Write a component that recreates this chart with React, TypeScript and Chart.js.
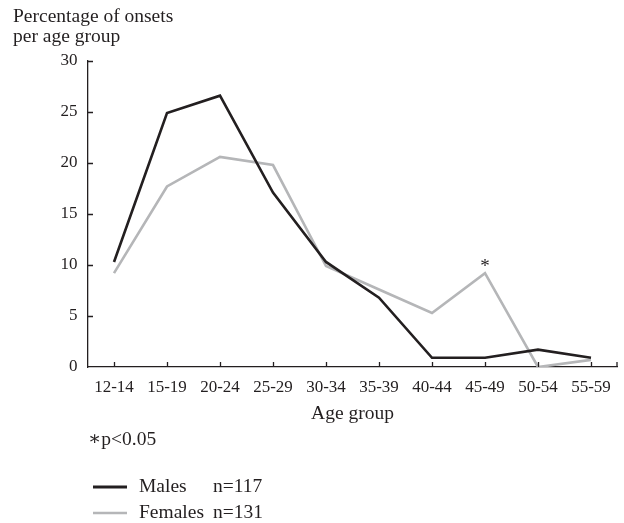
import React, { useEffect, useRef } from "react";
import { Chart, registerables } from "chart.js";

Chart.register(...registerables);

const ageGroups = ["12-14", "15-19", "20-24", "25-29", "30-34", "35-39", "40-44", "45-49", "50-54", "55-59"];
const males = [10.3, 24.9, 26.6, 17.1, 10.3, 6.8, 0.9, 0.9, 1.7, 0.9];
const females = [9.2, 17.7, 20.6, 19.8, 9.9, 7.6, 5.3, 9.2, 0, 0.7];
const yTickValues = [0, 5, 10, 15, 20, 25, 30];
const yTitleLines = ["Percentage of onsets", "per age group"];
const xTitle = "Age group";
const footnote = "\u2217p<0.05";
const significantIndex = 7;
const legendItems = [
  { label: "Males", n: "n=117" },
  { label: "Females", n: "n=131" },
];

const BLACK = "#231f20";
const GRAY = "#b5b6b8";
const FONT = "'Liberation Serif', 'DejaVu Serif', serif";

const decorPlugin = {
  id: "decor",
  afterDraw(chart: any) {
    const ctx = chart.ctx;
    const area = chart.chartArea;
    const xs = chart.scales.x;
    const ys = chart.scales.y;
    ctx.save();
    // inward tick marks
    ctx.strokeStyle = BLACK;
    ctx.lineWidth = 1.3;
    ctx.beginPath();
    yTickValues.forEach((v) => {
      const y = Math.round(ys.getPixelForValue(v)) + 0.5;
      if (v === 0) return;
      ctx.moveTo(area.left, y);
      ctx.lineTo(area.left + 5.5, y);
    });
    ageGroups.forEach((_, i) => {
      const x = Math.round(xs.getPixelForValue(i)) + 0.5;
      ctx.moveTo(x, area.bottom);
      ctx.lineTo(x, area.bottom - 5);
    });
    ctx.moveTo(area.right - 0.5, area.bottom);
    ctx.lineTo(area.right - 0.5, area.bottom - 5);
    ctx.stroke();

    ctx.fillStyle = BLACK;
    ctx.textBaseline = "alphabetic";
    // y title
    ctx.font = `19.5px ${FONT}`;
    ctx.textAlign = "left";
    ctx.fillText(yTitleLines[0], 13, 21.5);
    ctx.fillText(yTitleLines[1], 13, 42);
    // x title
    ctx.textAlign = "center";
    ctx.fillText(xTitle, (area.left + area.right) / 2, 418.5);
    // significance marker
    ctx.font = `19px ${FONT}`;
    const sx = xs.getPixelForValue(significantIndex);
    const sy = ys.getPixelForValue(females[significantIndex]);
    ctx.fillText("*", sx, sy - 1);
    // footnote
    ctx.textAlign = "left";
    ctx.font = `19.5px ${FONT}`;
    ctx.fillText(footnote, 88, 445);
    // legend
    const colors = [BLACK, GRAY];
    const lineY = [487, 513];
    const textY = [492, 518];
    legendItems.forEach((item, i) => {
      ctx.strokeStyle = colors[i];
      ctx.lineWidth = i === 0 ? 2.8 : 2.4;
      ctx.beginPath();
      ctx.moveTo(93, lineY[i]);
      ctx.lineTo(127, lineY[i]);
      ctx.stroke();
      ctx.fillStyle = BLACK;
      ctx.font = `19.5px ${FONT}`;
      ctx.fillText(item.label, 139, textY[i]);
      ctx.fillText(item.n, 213, textY[i]);
    });
    ctx.restore();
  },
};

export default function App() {
  const ref = useRef<HTMLCanvasElement | null>(null);
  useEffect(() => {
    if (!ref.current) return;
    const chart = new Chart(ref.current, {
      type: "line",
      data: {
        labels: ageGroups,
        datasets: [
          {
            label: "Males",
            data: males,
            borderColor: BLACK,
            borderWidth: 2.6,
            pointRadius: 0,
            tension: 0,
            fill: false,
          },
          {
            label: "Females",
            data: females,
            borderColor: GRAY,
            borderWidth: 2.6,
            pointRadius: 0,
            tension: 0,
            fill: false,
          },
        ],
      },
      options: {
        responsive: false,
        animation: false,
        events: [],
        layout: { padding: { top: 61, right: 6.5, left: 0, bottom: 0 } },
        plugins: {
          legend: { display: false },
          tooltip: { enabled: false },
          title: { display: false },
        },
        scales: {
          x: {
            type: "category",
            offset: true,
            grid: { display: false, drawTicks: false },
            border: { display: true, color: BLACK, width: 1.3 },
            ticks: {
              color: BLACK,
              padding: 10,
              maxRotation: 0,
              autoSkip: false,
              font: { family: FONT, size: 17 },
            },
            afterFit: (s: any) => {
              s.height = 156;
            },
          },
          y: {
            min: 0,
            max: 30,
            grid: { display: false, drawTicks: false },
            border: { display: true, color: BLACK, width: 1.3 },
            afterBuildTicks: (s: any) => {
              s.ticks = yTickValues.map((v) => ({ value: v }));
            },
            ticks: {
              color: BLACK,
              padding: 10,
              font: { family: FONT, size: 17 },
            },
            afterFit: (s: any) => {
              s.width = 87.5;
            },
          },
        },
      },
      plugins: [decorPlugin],
    });
    return () => chart.destroy();
  }, []);
  return (
    <div style={{ position: "absolute", left: 0, top: 0, width: 624, height: 523, background: "#fff" }}>
      <canvas ref={ref} width={624} height={523} style={{ display: "block" }} />
    </div>
  );
}
